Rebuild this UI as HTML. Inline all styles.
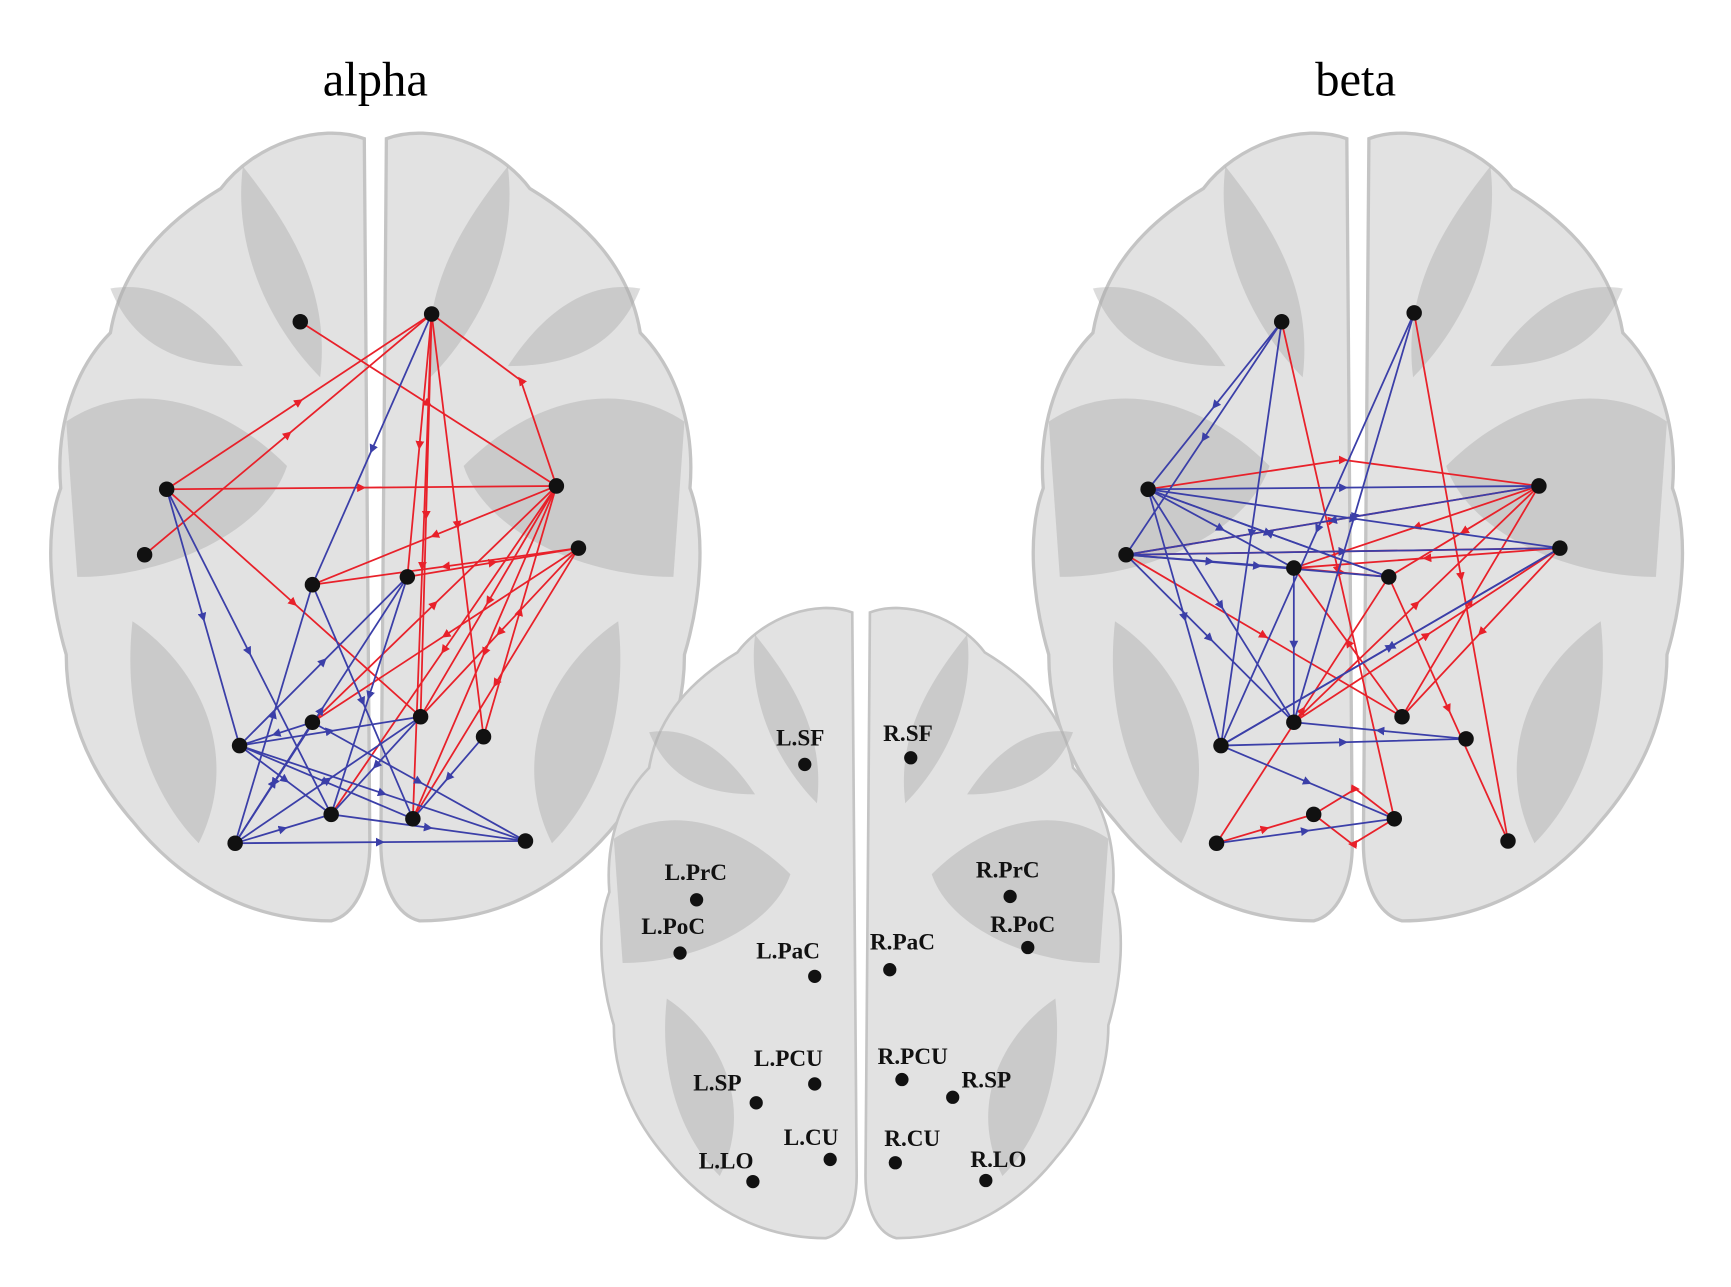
<!DOCTYPE html>
<html><head><meta charset="utf-8"><style>
html,body{margin:0;padding:0;background:#fff;width:1731px;height:1287px;overflow:hidden}
svg{display:block}
</style></head><body>
<svg id="s" width="1731" height="1287" viewBox="0 0 1568 1160" preserveAspectRatio="none" xmlns="http://www.w3.org/2000/svg">
<defs>
<marker id="ar" viewBox="0 0 10 10" refX="5" refY="5" markerWidth="5" markerHeight="5" orient="auto"><path d="M0,0 L10,5 L0,10 z" fill="#e8212a"/></marker>
<marker id="ab" viewBox="0 0 10 10" refX="5" refY="5" markerWidth="5" markerHeight="5" orient="auto"><path d="M0,0 L10,5 L0,10 z" fill="#3b3fa8"/></marker>
<g id="brainL">
<path d="M330,125 C290,110 230,130 200,170 C150,200 110,240 100,300 C70,330 50,380 55,440 C40,480 45,540 60,590 C60,650 85,700 120,740 C160,790 220,830 300,830 C320,825 335,800 335,760 Z" fill="#e2e2e2" stroke="#c4c4c4" stroke-width="3"/>
<path d="M350,125 C390,110 450,130 480,170 C530,200 570,240 580,300 C610,330 630,380 625,440 C640,480 635,540 620,590 C620,650 595,700 560,740 C520,790 460,830 380,830 C360,825 345,800 345,760 Z" fill="#e2e2e2" stroke="#c4c4c4" stroke-width="3"/>
<g fill="#a8a8a8" opacity="0.4">
<path d="M60,380 C120,340 200,360 260,420 C240,480 150,520 70,520 Z"/>
<path d="M620,380 C560,340 480,360 420,420 C440,480 530,520 610,520 Z"/>
<path d="M120,560 C180,600 220,680 180,760 C140,720 110,650 120,560 Z"/>
<path d="M560,560 C500,600 460,680 500,760 C540,720 570,650 560,560 Z"/>
<path d="M220,150 C260,200 300,260 290,340 C250,300 210,230 220,150 Z"/>
<path d="M460,150 C420,200 380,260 390,340 C430,300 470,230 460,150 Z"/>
<path d="M100,260 C160,250 200,300 220,330 C160,330 120,310 100,260Z"/>
<path d="M580,260 C520,250 480,300 460,330 C520,330 560,310 580,260Z"/>
</g>
</g>
</defs>
<text x="340" y="86" font-family="Liberation Serif, serif" font-size="44" text-anchor="middle">alpha</text>
<text x="1228" y="86" font-family="Liberation Serif, serif" font-size="44" text-anchor="middle">beta</text>
<use href="#brainL"/>
<use href="#brainL" transform="translate(890,0)"/>
<use href="#brainL" transform="translate(780,452) scale(0.8) translate(-340,0)"/>
<g id="edges" fill="none" stroke-width="1.6"></g>
<g id="nodes" fill="#111"></g>
<g font-family="Liberation Serif, serif" font-size="21" font-weight="bold" fill="#111">
<text x="703" y="672">L.SF</text><circle cx="729" cy="689" r="6"/>
<text x="800" y="668">R.SF</text><circle cx="825" cy="683" r="6"/>
<text x="602" y="793">L.PrC</text><circle cx="631" cy="811" r="6"/>
<text x="884" y="791">R.PrC</text><circle cx="915" cy="808" r="6"/>
<text x="581" y="842">L.PoC</text><circle cx="616" cy="859" r="6"/>
<text x="897" y="840">R.PoC</text><circle cx="931" cy="854" r="6"/>
<text x="685" y="864">L.PaC</text><circle cx="738" cy="880" r="6"/>
<text x="788" y="856">R.PaC</text><circle cx="806" cy="874" r="6"/>
<text x="683" y="961">L.PCU</text><circle cx="738" cy="977" r="6"/>
<text x="795" y="959">R.PCU</text><circle cx="817" cy="973" r="6"/>
<text x="628" y="983">L.SP</text><circle cx="685" cy="994" r="6"/>
<text x="871" y="980">R.SP</text><circle cx="863" cy="989" r="6"/>
<text x="710" y="1032">L.CU</text><circle cx="752" cy="1045" r="6"/>
<text x="801" y="1033">R.CU</text><circle cx="811" cy="1048" r="6"/>
<text x="633" y="1053">L.LO</text><circle cx="682" cy="1065" r="6"/>
<text x="879" y="1052">R.LO</text><circle cx="893" cy="1064" r="6"/>
</g>
<script>
var A=[[272,290],[391,283],[151,441],[504,438],[131,500],[524,494],[283,527],[369,520],[283,651],[381,646],[438,664],[217,672],[300,734],[374,738],[213,760],[476,758]];
var B=[[1161,290],[1281,282],[1040,441],[1394,438],[1020,500],[1413,494],[1172,512],[1258,520],[1172,651],[1270,646],[1328,666],[1106,672],[1190,734],[1263,738],[1102,760],[1366,758]];
var ar=[[2,3],[4,1],[2,1],[0,3],[2,9],[1,9],[1,10],[3,1,30],[3,6],[5,6],[3,9],[5,13],[3,13],[5,9],[10,3],[8,3],[1,13],[7,5],[1,7],[5,8],[3,12]];
var ab=[[1,6],[6,13],[2,11],[2,12],[11,7],[14,15],[14,7],[11,15],[14,12],[11,9],[8,15],[12,15],[7,12],[14,8],[8,14],[10,13],[11,12],[14,9],[11,13],[9,12],[14,6],[8,11]];
var br=[[0,13],[1,15],[2,3,-25],[4,3],[4,5],[3,6],[3,7],[5,6],[14,12],[12,13,-25],[13,12,-25],[14,7],[8,5],[9,3],[7,15],[6,7],[5,9],[4,9],[9,6],[8,3]];
var bb=[[0,2],[0,4],[0,11],[1,11],[1,8],[2,3],[2,7],[2,6],[4,5],[4,7],[2,11],[2,8],[11,10],[11,13],[11,5],[14,13],[5,11],[4,6],[2,5],[6,8],[10,8],[4,8],[3,4],[7,2]];
var g=document.getElementById('edges'),n=document.getElementById('nodes'),NS='http://www.w3.org/2000/svg';
function add(P,E,c,m){E.forEach(function(e){var a=P[e[0]],b=P[e[1]],k=e[2]||0;var mx=(a[0]+b[0])/2,my=(a[1]+b[1])/2;var dx=b[0]-a[0],dy=b[1]-a[1],L=Math.hypot(dx,dy)||1;mx+=-dy/L*k;my+=dx/L*k;var p=document.createElementNS(NS,'polyline');p.setAttribute('points',a+' '+mx+','+my+' '+b);p.setAttribute('stroke',c);p.setAttribute('marker-mid','url(#'+m+')');p.setAttribute('fill','none');g.appendChild(p);});}
add(A,ar,'#e8212a','ar');add(A,ab,'#3b3fa8','ab');add(B,br,'#e8212a','ar');add(B,bb,'#3b3fa8','ab');
A.concat(B).forEach(function(p){var c=document.createElementNS(NS,'circle');c.setAttribute('cx',p[0]);c.setAttribute('cy',p[1]);c.setAttribute('r',7);n.appendChild(c);});
</script>
</svg>
</body></html>
